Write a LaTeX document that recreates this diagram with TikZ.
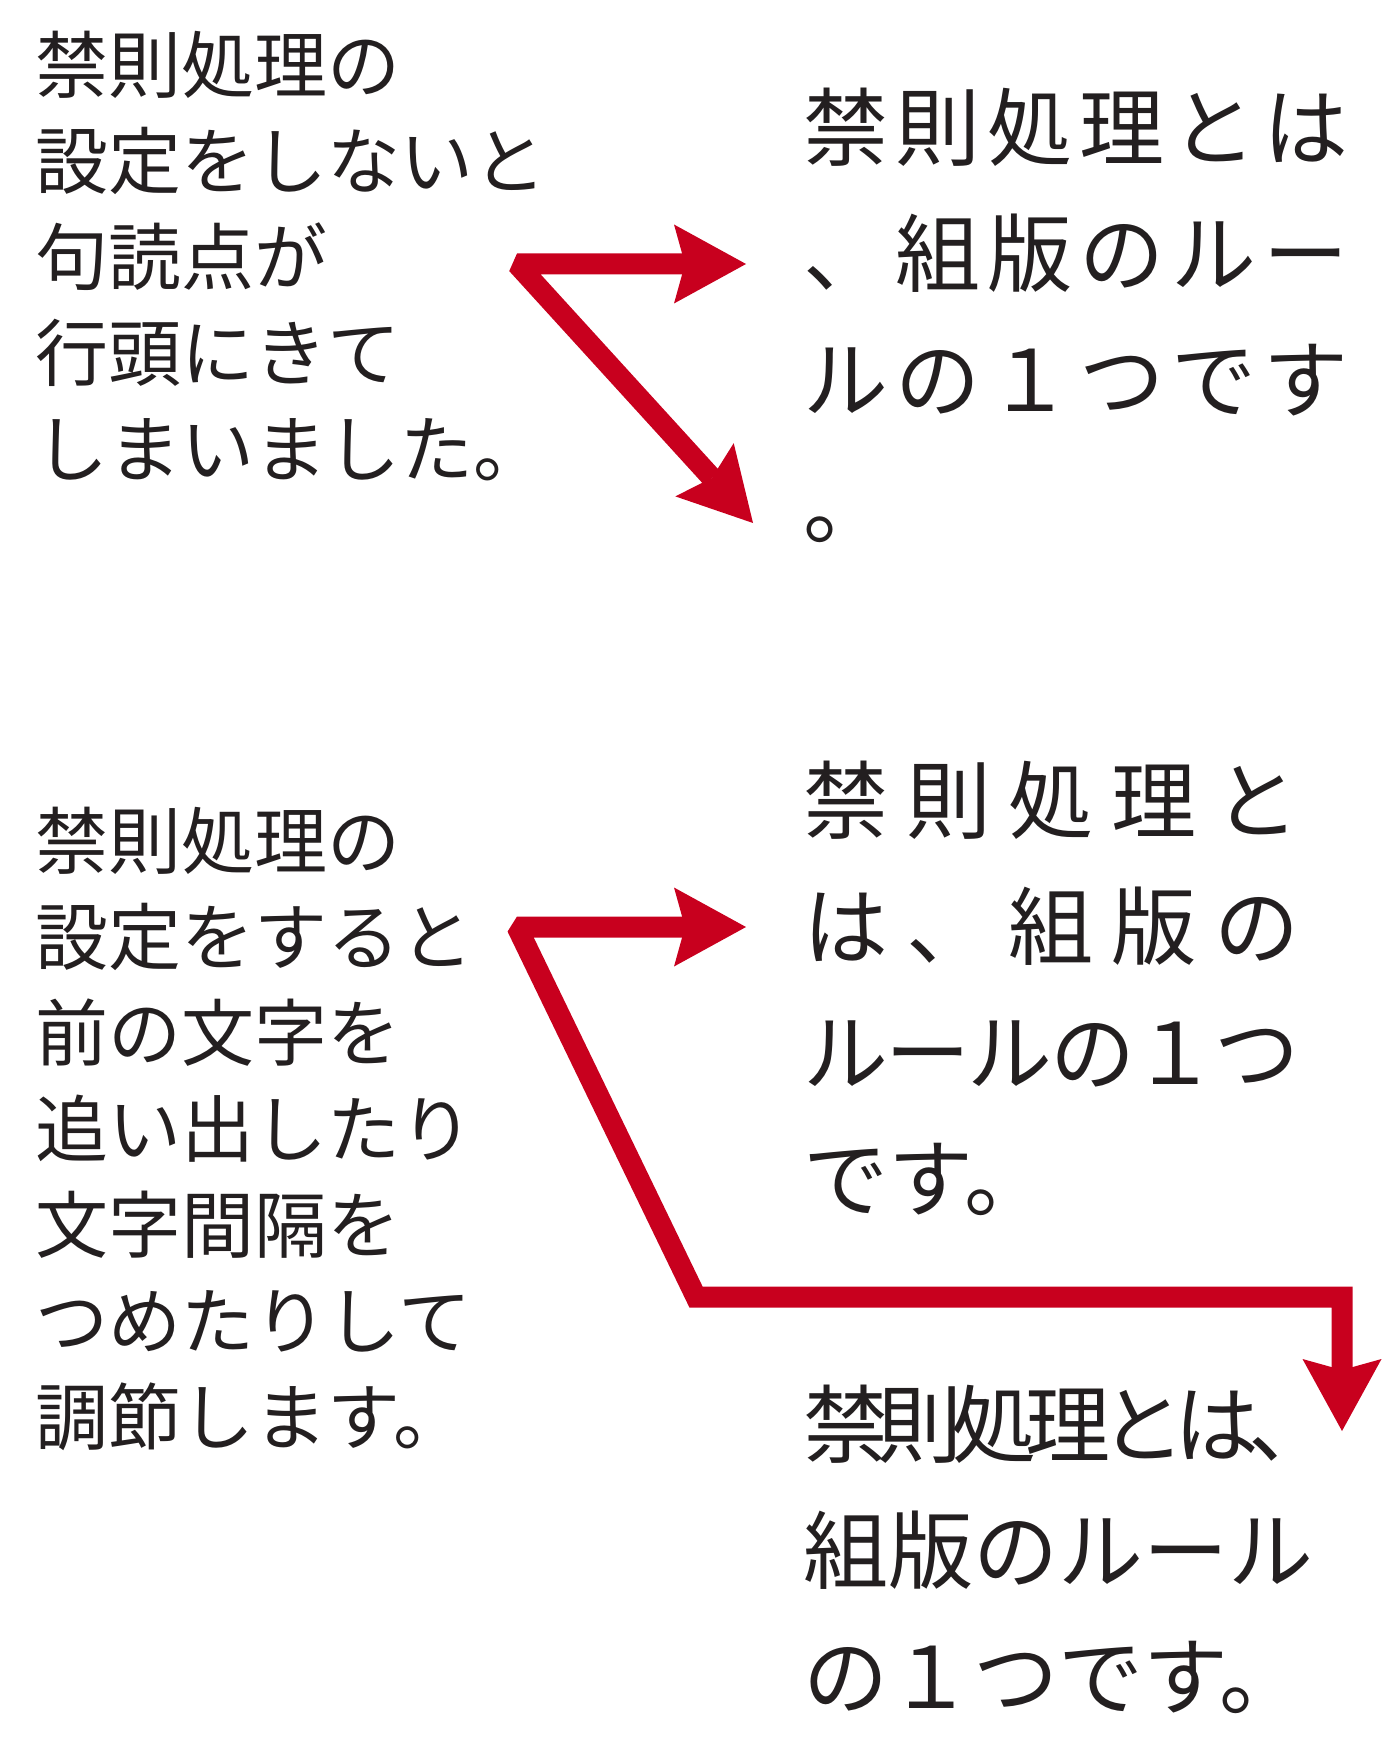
\documentclass[tikz,border=0pt]{standalone}
\usepackage{fontspec}
\usepackage{tikz}
\usetikzlibrary{arrows.meta}
\newfontfamily\jpfont{Noto Sans CJK JP}
\definecolor{inkblack}{RGB}{35,31,32}
\definecolor{markred}{RGB}{200,0,30}
\makeatletter
\newcommand\spreadrow[2]{\hbox to #1{\spr@first#2\relax}}
\def\spr@first#1{#1\spr@loop}
\def\spr@loop#1{\ifx#1\relax\else\hss#1\expandafter\spr@loop\fi}
\makeatother
\begin{document}
\begin{tikzpicture}[x=0.5pt, y=-0.5pt,
    leftcol/.style ={anchor=base west, align=left, inner sep=0pt, text=inkblack,
      font=\jpfont\fontsize{36.5pt}{48pt}\selectfont},
    rightcol/.style ={anchor=base west, align=left, inner sep=0pt, text=inkblack,
      font=\jpfont\fontsize{42.5pt}{63pt}\selectfont},
    redarrow/.style ={draw=markred, line width=10.5pt, line join=miter, miter limit=1.6,
      {Stealth[length=36pt, width=39.5pt, inset=5.5pt, line width=0pt]}-{Stealth[length=36pt, width=39.5pt, inset=5.5pt, line width=0pt]}}]
   \useasboundingbox (0,0) rectangle (1387,1749);

   % without kinsoku (base = last line)
   \node[leftcol] (before1) at (35,476) {禁則処理の\\設定をしないと\\句読点が\\行頭にきて\\しまいました。};
   \node[rightcol] (after1) at (803,537) {\spreadrow{272.5pt}{禁則処理とは}\\\spreadrow{272.5pt}{、組版のルー}\\\spreadrow{272.5pt}{ルの１つです}\\。};

   \coordinate (fork1) at (517,264);
   \coordinate (tip1a) at (746,264);
   \coordinate (tip1b) at (753,523);
   \draw[redarrow] (tip1a) -- (fork1) -- (tip1b);

   % with kinsoku
   \node[leftcol] (before2) at (35,1444) {禁則処理の\\設定をすると\\前の文字を\\追い出したり\\文字間隔を\\つめたりして\\調節します。};
   \node[rightcol] (after2) at (803,1210) {\spreadrow{248pt}{禁則処理と}\\\spreadrow{248pt}{は、組版の}\\\spreadrow{248pt}{ルールの１つ}\\です。};
   \node[rightcol] (after3) at (803,1708) {\spreadrow{265pt}{禁則処理とは、}\\組版のルール\\の１つです。};

   \coordinate (fork2) at (517,927);
   \coordinate (tip2a) at (746,927);
   \coordinate (bend2a) at (696,1297);
   \coordinate (bend2b) at (1342,1297);
   \coordinate (tip2b) at (1342,1431);
   \draw[redarrow] (tip2a) -- (fork2) -- (bend2a) -- (bend2b) -- (tip2b);
\end{tikzpicture}
\end{document}
